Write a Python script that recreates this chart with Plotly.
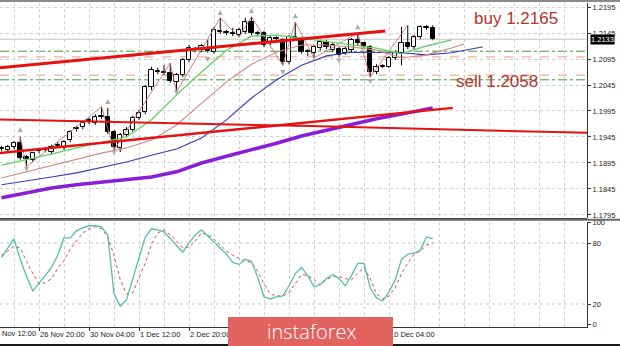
import plotly.graph_objects as go

# ---------------- DATA ----------------
bar_idx = list(range(2, 72))
opens = [1.1922,1.1920,1.1926,1.1933,1.1907,1.1901,1.1918,1.1920,1.1916,1.1928,
         1.1924,1.1939,1.1960,1.1964,1.1976,1.1972,1.1984,1.1984,1.1955,1.1924,
         1.1949,1.1958,1.1982,1.1993,1.2041,1.2070,1.2068,1.2068,1.2051,1.2064,
         1.2093,1.2112,1.2112,1.2116,1.2108,1.2147,1.2145,1.2145,1.2141,1.2147,
         1.2166,1.2145,1.2145,1.2126,1.2135,1.2132,1.2089,1.2135,1.2133,1.2108,
         1.2107,1.2116,1.2128,1.2112,1.2114,1.2107,1.2112,1.2132,1.2126,1.2118,
         1.2070,1.2080,1.2080,1.2097,1.2107,1.2126,1.2118,1.2137,1.2155,1.2155]
highs = [1.1928,1.1930,1.1937,1.1945,1.1910,1.1916,1.1924,1.1926,1.1930,1.1935,
         1.1939,1.1958,1.1966,1.1976,1.1982,1.1989,1.2003,1.2001,1.1958,1.1953,
         1.1964,1.1986,1.1997,1.2045,1.2080,1.2078,1.2083,1.2087,1.2068,1.2097,
         1.2122,1.2118,1.2124,1.2132,1.2157,1.2174,1.2151,1.2155,1.2155,1.2174,
         1.2176,1.2149,1.2149,1.2139,1.2139,1.2135,1.2141,1.2166,1.2137,1.2114,
         1.2122,1.2132,1.2132,1.2126,1.2118,1.2118,1.2135,1.2145,1.2128,1.2122,
         1.2085,1.2085,1.2101,1.2112,1.2157,1.2160,1.2141,1.2160,1.2160,1.2160]
lows = [1.1918,1.1916,1.1922,1.1901,1.1888,1.1897,1.1914,1.1916,1.1912,1.1924,
        1.1920,1.1935,1.1956,1.1960,1.1970,1.1968,1.1980,1.1951,1.1920,1.1916,
        1.1945,1.1955,1.1978,1.1989,1.2035,1.2066,1.2064,1.2049,1.2032,1.2060,
        1.2089,1.2108,1.2108,1.2107,1.2105,1.2143,1.2141,1.2139,1.2137,1.2143,
        1.2141,1.2139,1.2118,1.2122,1.2128,1.2083,1.2085,1.2132,1.2105,1.2101,
        1.2097,1.2112,1.2114,1.2108,1.2099,1.2103,1.2108,1.2122,1.2114,1.2060,
        1.2066,1.2078,1.2078,1.2093,1.2083,1.2114,1.2112,1.2133,1.2151,1.2131]
closes = [1.1924,1.1926,1.1933,1.1905,1.1903,1.1914,1.1920,1.1922,1.1926,1.1930,
          1.1935,1.1955,1.1962,1.1972,1.1978,1.1984,1.1986,1.1955,1.1926,1.1949,
          1.1958,1.1982,1.1991,1.2041,1.2074,1.2072,1.2070,1.2053,1.2064,1.2093,
          1.2116,1.2114,1.2120,1.2110,1.2151,1.2149,1.2147,1.2143,1.2151,1.2166,
          1.2145,1.2143,1.2122,1.2135,1.2133,1.2089,1.2137,1.2137,1.2108,1.2110,
          1.2118,1.2128,1.2118,1.2122,1.2103,1.2114,1.2132,1.2126,1.2118,1.2070,
          1.2080,1.2082,1.2097,1.2107,1.2126,1.2118,1.2137,1.2157,1.2157,1.2133]

# Alligator-style moving averages
lips_idx = [2,6,10,14,18,22,26,30,34,38,42,46,50,54,58,62,66,70,74]
lips_val = [1.1891,1.1901,1.1912,1.1924,1.1935,1.1945,1.1978,1.2026,1.2070,1.2112,
            1.2139,1.2141,1.2135,1.2128,1.2122,1.2116,1.2105,1.2120,1.2132]
teeth_idx = [2,6,10,14,18,22,26,30,34,38,42,46,50,54,58,62,66,70,74,76]
teeth_val = [1.1866,1.1878,1.1889,1.1901,1.1914,1.1924,1.1939,1.1968,1.2010,1.2051,
             1.2085,1.2108,1.2122,1.2122,1.2118,1.2112,1.2097,1.2103,1.2116,1.2124]
jaw_idx = [2,6,10,14,18,22,26,30,34,38,42,46,50,54,58,62,66,70,74,78,79]
jaw_val = [1.1853,1.1860,1.1868,1.1876,1.1886,1.1897,1.1910,1.1922,1.1943,1.1978,
           1.2020,1.2055,1.2083,1.2101,1.2108,1.2108,1.2107,1.2103,1.2107,1.2116,1.2118]
slow_idx = [2,6,10,14,18,22,26,30,34,38,42,46,50,54,58,62,66,70,71]
slow_val = [1.1828,1.1837,1.1847,1.1853,1.1858,1.1864,1.1868,1.1878,1.1895,1.1908,
            1.1920,1.1933,1.1947,1.1958,1.1970,1.1980,1.1989,1.1999,1.2001]

# trend lines (index, price)
trend_a_idx = [0, 63.4]
trend_a_px = [1.2076, 1.2149]
trend_b_idx = [0, 74.2]
trend_b_px = [1.1912, 1.2001]
trend_c_idx = [0, 51.4, 95.7]
trend_c_px = [1.1979, 1.1966, 1.1953]

# zigzag
zz_idx = [5,6,18,20,29,30,37,40,42,47,49,52,59,61,67]
zz_px = [1.1945,1.1888,1.2003,1.1920,1.2087,1.2032,1.2174,1.2137,1.2176,1.2083,
         1.2166,1.2097,1.2145,1.2060,1.2160]

# fractals
frac_up_idx = [5, 19, 37, 42, 49, 59]
frac_up_px = [1.1964, 1.2018, 1.2189, 1.2193, 1.2183, 1.2162]
frac_dn_idx = [6, 20, 30, 35, 47, 56, 61]
frac_dn_px = [1.1878, 1.1910, 1.2026, 1.2089, 1.2064, 1.2087, 1.2047]

# horizontal levels
green_levels = [1.2110, 1.2055]
salmon_levels = [1.2099, 1.2064]
last_price = 1.2133

# stochastic
stoch_main = [66,75,84,64,47,33,40,48,56,68,
              85,85,92,95,97,97,96,88,30,18,
              24,45,67,86,94,93,91,84,77,71,
              80,88,93,87,82,75,69,61,59,64,
              62,46,27,25,27,28,38,50,56,48,
              37,39,45,49,45,38,48,60,60,36,
              26,23,32,44,64,69,70,73,86,84]
stoch_signal = [68,72,77,75,62,50,40,41,45,55,
                63,74,82,90,94,96,94,86,68,44,
                30,31,46,60,79,90,93,88,82,75,
                76,82,90,88,84,78,72,68,65,62,
                61,52,40,30,28,28,31,40,49,48,
                44,39,44,47,47,45,44,50,56,45,
                30,25,28,36,50,60,69,72,78,80]
stoch_levels = [20, 80]
stoch_ticks = [0, 20, 80, 100]

price_ticks = [1.1795, 1.1845, 1.1895, 1.1945, 1.1995, 1.2045, 1.2095, 1.2145, 1.2195]
time_idx = [8, 16, 24, 32, 40, 48, 56, 64]
time_labels = ["26 Nov 20:00", "30 Nov 04:00", "1 Dec 12:00", "2 Dec 20:00",
               "4 Dec 04:00", "7 Dec 12:00", "8 Dec 20:00", "10 Dec 04:00"]
hidden_under_logo = [40, 48, 56]   # labels covered by the logo block in the picture
first_label = "25 Nov 12:00"

# ---------------- FIGURE ----------------
W, H = 620, 346
PLOT_R = 587
P_TOP, P_BOT = 3, 218
S_TOP, S_BOT = 222, 327

fig = go.Figure()

# candle bodies
body_base = [min(o, c) for o, c in zip(opens, closes)]
body_h = [max(abs(c - o), 0.00008) for o, c in zip(opens, closes)]
body_col = ["white" if c >= o else "black" for o, c in zip(opens, closes)]
fig.add_trace(go.Bar(x=bar_idx, y=body_h, base=body_base, width=0.66,
                     marker=dict(color=body_col, line=dict(color="black", width=1)),
                     xaxis="x", yaxis="y", hoverinfo="skip", showlegend=False))

# wicks (upper and lower segments)
wx, wy = [], []
for i, o, h, l, c in zip(bar_idx, opens, highs, lows, closes):
    top, bot = max(o, c), min(o, c)
    wx += [i, i, None, i, i, None]
    wy += [top, h, None, l, bot, None]
fig.add_trace(go.Scatter(x=wx, y=wy, mode="lines", line=dict(color="black", width=1),
                         xaxis="x", yaxis="y", hoverinfo="skip", showlegend=False))

def line(xs, ys, color, width, dash="solid", yaxis="y", opacity=1.0):
    fig.add_trace(go.Scatter(x=xs, y=ys, mode="lines", opacity=opacity,
                             line=dict(color=color, width=width, dash=dash),
                             xaxis="x", yaxis=yaxis, hoverinfo="skip", showlegend=False))

line(zz_idx, zz_px, "#c86a6a", 1, opacity=0.85)
line(slow_idx, slow_val, "#8a1ed8", 3.5)
line(jaw_idx, jaw_val, "#3a3ab8", 1.1)
line(teeth_idx, teeth_val, "#cf8a80", 1.1)
line(lips_idx, lips_val, "#5fd35f", 1.3)
line(trend_c_idx, trend_c_px, "#e81010", 2)
line(trend_b_idx, trend_b_px, "#e81010", 2.5)
line(trend_a_idx, trend_a_px, "#e81010", 3)

fig.add_trace(go.Scatter(x=frac_up_idx, y=frac_up_px, mode="markers",
                         marker=dict(symbol="arrow-up", size=5, color="#a8a8a8"),
                         xaxis="x", yaxis="y", hoverinfo="skip", showlegend=False))
fig.add_trace(go.Scatter(x=frac_dn_idx, y=frac_dn_px, mode="markers",
                         marker=dict(symbol="arrow-down", size=5, color="#a8a8a8"),
                         xaxis="x", yaxis="y", hoverinfo="skip", showlegend=False))

# stochastic
line(bar_idx, stoch_signal, "#d84848", 1, dash="dot", yaxis="y2")
line(bar_idx, stoch_main, "#55bdb0", 1.3, yaxis="y2")

def py(px):  # pixel row -> paper fraction
    return 1 - px / H

shapes = []
for lv in green_levels:
    shapes.append(dict(type="line", xref="paper", yref="y", x0=0, x1=1, y0=lv, y1=lv,
                       line=dict(color="#3f9a3f", width=1, dash="dashdot"), layer="below"))
for lv in salmon_levels:
    shapes.append(dict(type="line", xref="paper", yref="y", x0=0, x1=1, y0=lv, y1=lv,
                       line=dict(color="#ee9a80", width=1, dash="dash"), layer="below"))
shapes.append(dict(type="line", xref="paper", yref="y", x0=0, x1=1, y0=last_price, y1=last_price,
                   line=dict(color="#c4c4c4", width=1), layer="below"))
for lv in stoch_levels:
    shapes.append(dict(type="line", xref="paper", yref="y2", x0=0, x1=1, y0=lv, y1=lv,
                       line=dict(color="#c8c8c8", width=1, dash="dot"), layer="below"))
# window frame lines
shapes.append(dict(type="line", xref="paper", yref="paper", x0=0, x1=W / PLOT_R,
                   y0=py(1), y1=py(1), line=dict(color="#8a8a8a", width=2)))
shapes.append(dict(type="line", xref="paper", yref="paper", x0=0, x1=1,
                   y0=py(P_BOT + 0.5), y1=py(P_BOT + 0.5), line=dict(color="#404040", width=1)))
shapes.append(dict(type="line", xref="paper", yref="paper", x0=0, x1=W / PLOT_R,
                   y0=py(219.8), y1=py(219.8), line=dict(color="#6a6a6a", width=2)))
shapes.append(dict(type="line", xref="paper", yref="paper", x0=0, x1=W / PLOT_R,
                   y0=py(345), y1=py(345), line=dict(color="#1a1a1a", width=2)))
# logo block
shapes.append(dict(type="rect", xref="paper", yref="paper", x0=228 / PLOT_R, x1=393 / PLOT_R,
                   y0=py(346), y1=py(317), fillcolor="#e2625f", line=dict(width=0), layer="above"))

annotations = [
    dict(text="buy 1.2165", xref="paper", yref="paper", x=516 / PLOT_R, y=py(18.5),
         xanchor="center", yanchor="middle", showarrow=False,
         font=dict(family="Liberation Sans, Arial", size=17, color="#b5352c")),
    dict(text="sell 1.2058", xref="paper", yref="paper", x=497 / PLOT_R, y=py(81),
         xanchor="center", yanchor="middle", showarrow=False,
         font=dict(family="Liberation Sans, Arial", size=17, color="#b5352c")),
    dict(text=f"{last_price:.4f}", xref="paper", yref="y", x=590 / PLOT_R, y=last_price,
         xanchor="left", yanchor="middle", showarrow=False, bgcolor="black", borderpad=0,
         font=dict(family="Liberation Sans, Arial", size=7.5, color="white")),
    dict(text=first_label.split(" ", 1)[1], xref="paper", yref="paper", x=0, y=py(333),
         xanchor="left", yanchor="middle", showarrow=False,
         font=dict(family="Liberation Sans, Arial", size=7.5, color="#222")),
    dict(text="instaforex", xref="paper", yref="paper", x=311 / PLOT_R, y=py(331.5),
         xanchor="center", yanchor="middle", showarrow=False,
         font=dict(family="Open Sans", size=20, color="white", weight=300)),
]

grid = dict(gridcolor="#cfcfcf", griddash="dot", gridwidth=1)
tickfont = dict(family="Liberation Sans, Arial", size=7.5, color="#222")
shown_labels = ["" if t in hidden_under_logo else s for t, s in zip(time_idx, time_labels)]

fig.update_layout(
    width=W, height=H, margin=dict(l=0, r=W - PLOT_R, t=0, b=0, autoexpand=False),
    paper_bgcolor="white", plot_bgcolor="white", showlegend=False, bargap=0,
    xaxis=dict(domain=[0, 1], range=[1.76, 95.68], anchor="y2", automargin=False,
               tickvals=time_idx, ticktext=shown_labels, ticklabelposition="outside right",
               tickangle=0, ticks="outside", ticklen=3, tickcolor="#333", tickfont=tickfont,
               showgrid=True, **grid,
               minor=dict(tick0=0, dtick=4, showgrid=True, gridcolor="#cfcfcf", griddash="dot", ticks=""),
               showline=True, linecolor="#333", linewidth=1, zeroline=False),
    yaxis=dict(domain=[py(P_BOT), py(P_TOP)], range=[1.17892, 1.22027], side="right", anchor="x",
               automargin=False,
               tickvals=price_ticks, ticktext=[f"{v:.4f}" for v in price_ticks],
               ticks="outside", ticklen=3, tickcolor="#333", tickfont=tickfont,
               showgrid=True, **grid, showline=True, linecolor="#333", linewidth=1, zeroline=False),
    yaxis2=dict(domain=[py(S_BOT), py(S_TOP)], range=[-2.6, 100.7], side="right", anchor="x",
                automargin=False,
                tickvals=stoch_ticks, ticks="outside", ticklen=3, tickcolor="#333", tickfont=tickfont,
                showgrid=False, showline=True, linecolor="#333", linewidth=1, zeroline=False),
    shapes=shapes, annotations=annotations,
)

fig.write_html("out.html")
